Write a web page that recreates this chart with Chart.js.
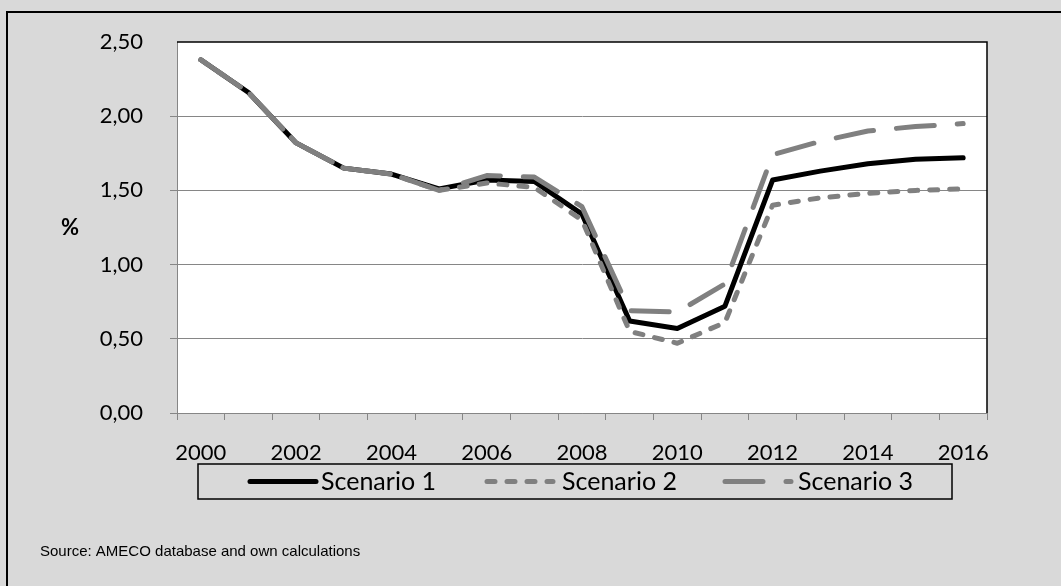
<!DOCTYPE html>
<html>
<head>
<meta charset="utf-8">
<script src="https://cdn.jsdelivr.net/npm/chart.js@4.4.1/dist/chart.umd.min.js"></script>
<style>
  html, body { margin: 0; padding: 0; background: #d9d9d9; }
  canvas { display: block; }
</style>
</head>
<body>
<canvas id="chart" width="1061" height="586"></canvas>
<script>
// Categories and series values (percent)
const years = ['2000','2001','2002','2003','2004','2005','2006','2007','2008',
               '2009','2010','2011','2012','2013','2014','2015','2016'];
const scenario1 = [2.38, 2.16, 1.82, 1.65, 1.61, 1.51, 1.57, 1.56, 1.34, 0.62, 0.57, 0.72, 1.57, 1.63, 1.68, 1.71, 1.72];
const scenario2 = [2.38, 2.16, 1.82, 1.65, 1.61, 1.50, 1.55, 1.52, 1.30, 0.55, 0.47, 0.61, 1.40, 1.45, 1.48, 1.50, 1.51];
const scenario3 = [2.38, 2.16, 1.82, 1.65, 1.61, 1.50, 1.60, 1.59, 1.39, 0.69, 0.68, 0.87, 1.74, 1.83, 1.90, 1.93, 1.95];
const seriesNames = ['Scenario 1', 'Scenario 2', 'Scenario 3'];
const yTicks = [0, 0.5, 1, 1.5, 2, 2.5];
const yUnit = '%';
const sourceNote = 'Source: AMECO database and own calculations';

const GREY = '#808080';
const AXIS = '#868686';
const FONT = 'Lato, "Open Sans", sans-serif';

// Frame, white plot area, black plot border, legend, unit and source note
const framePlugin = {
  id: 'frame',
  beforeDraw(chart) {
    const ctx = chart.ctx, a = chart.chartArea;
    ctx.save();
    ctx.fillStyle = '#d9d9d9';
    ctx.fillRect(0, 0, chart.width, chart.height);
    ctx.fillStyle = '#000';
    ctx.fillRect(6, 11, 2, chart.height - 11);
    ctx.fillRect(6, 11, chart.width - 6, 2);
    ctx.fillStyle = '#fff';
    ctx.fillRect(a.left, a.top, a.right - a.left, a.bottom - a.top);
    ctx.restore();
  },
  beforeDatasetsDraw(chart) {
    const ctx = chart.ctx, a = chart.chartArea;
    ctx.save();
    ctx.strokeStyle = '#000';
    ctx.lineWidth = 1.5;
    ctx.beginPath();
    ctx.moveTo(a.left, a.top);
    ctx.lineTo(a.right, a.top);
    ctx.lineTo(a.right, a.bottom);
    ctx.stroke();
    ctx.restore();
  },
  afterDraw(chart) {
    const ctx = chart.ctx;
    ctx.save();
    // unit label beside the value axis
    ctx.fillStyle = '#000';
    ctx.font = 'bold 22px ' + FONT;
    ctx.textAlign = 'center';
    ctx.textBaseline = 'middle';
    ctx.fillText(yUnit, 70, 228);

    // legend box
    const box = { x: 198, y: 464, w: 754, h: 35 };
    ctx.strokeStyle = '#000';
    ctx.lineWidth = 1.5;
    ctx.strokeRect(box.x, box.y, box.w, box.h);
    const cy = box.y + box.h / 2;
    const items = [
      { sx: 250, ex: 316, tx: 321 },
      { sx: 487, ex: 553, tx: 562 },
      { sx: 725, ex: 791, tx: 798 }
    ];
    chart.data.datasets.forEach((ds, i) => {
      const it = items[i];
      ctx.save();
      ctx.strokeStyle = ds.borderColor;
      ctx.lineWidth = ds.borderWidth;
      ctx.lineCap = 'round';
      ctx.setLineDash(ds.borderDash || []);
      ctx.beginPath();
      ctx.moveTo(it.sx, cy);
      ctx.lineTo(it.ex, cy);
      ctx.stroke();
      ctx.restore();
      ctx.fillStyle = '#000';
      ctx.font = '25px ' + FONT;
      ctx.textAlign = 'left';
      ctx.textBaseline = 'middle';
      ctx.fillText(ds.label, it.tx, cy);
    });

    // source note
    ctx.font = '15px "Liberation Sans", Arial, sans-serif';
    ctx.textAlign = 'left';
    ctx.textBaseline = 'middle';
    ctx.fillText(sourceNote, 40, 552);
    ctx.restore();
  }
};

function draw() {
  new Chart(document.getElementById('chart'), {
    type: 'line',
    data: {
      labels: years,
      datasets: [
        { label: seriesNames[0], data: scenario1, borderColor: '#000', borderWidth: 5,
          borderDash: [], order: 2 },
        { label: seriesNames[1], data: scenario2, borderColor: GREY, borderWidth: 5,
          borderDash: [8, 12], order: 1 },
        { label: seriesNames[2], data: scenario3, borderColor: GREY, borderWidth: 5,
          borderDash: [38, 23], order: 0 }
      ].map(d => Object.assign(d, {
        tension: 0, pointRadius: 0, pointHoverRadius: 0, fill: false,
        borderCapStyle: 'round', borderJoinStyle: 'round'
      }))
    },
    options: {
      responsive: false,
      devicePixelRatio: 1,
      animation: false,
      events: [],
      layout: { padding: { left: 0, right: 74, top: 42, bottom: 0 } },
      plugins: { legend: { display: false }, tooltip: { enabled: false } },
      scales: {
        x: {
          type: 'category',
          offset: true,
          grid: { offset: true, drawOnChartArea: false, drawTicks: true, tickLength: 7, color: AXIS },
          border: { color: AXIS, width: 1 },
          ticks: {
            autoSkip: false, maxRotation: 0, minRotation: 0,
            color: '#000', font: { family: FONT, size: 22 }, padding: 20,
            callback: (v, i) => (i % 2 === 0 ? years[i] : '')
          },
          afterFit(s) { s.height = 586 - 413; }
        },
        y: {
          min: yTicks[0], max: yTicks[yTicks.length - 1],
          afterBuildTicks(s) { s.ticks = yTicks.map(v => ({ value: v })); },
          grid: {
            color: c => (c.tick && c.tick.value === yTicks[yTicks.length - 1]) ? 'rgba(0,0,0,0)' : AXIS,
            lineWidth: 1, drawTicks: true, tickLength: 7
          },
          border: { color: AXIS, width: 1 },
          ticks: {
            color: '#000', font: { family: FONT, size: 22 }, padding: 27,
            callback: v => Number(v).toFixed(2).replace('.', ',')
          },
          afterFit(s) { s.width = 177; }
        }
      }
    },
    plugins: [framePlugin]
  });
}

if (document.fonts && document.fonts.load) {
  Promise.all([
    document.fonts.load('22px Lato'),
    document.fonts.load('bold 22px Lato'),
    document.fonts.load('15px "Liberation Sans"')
  ]).then(draw, draw);
} else {
  draw();
}
</script>
</body>
</html>
